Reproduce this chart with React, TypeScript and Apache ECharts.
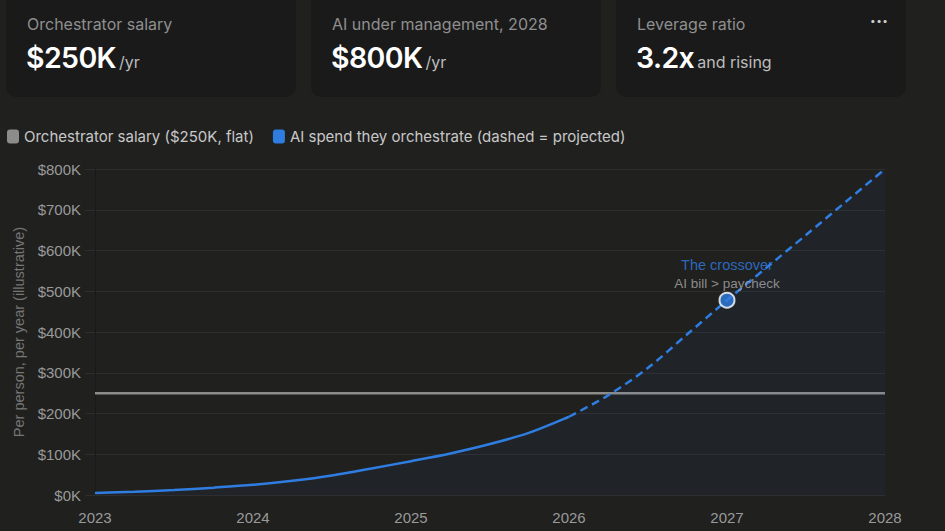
import React, { useEffect, useRef } from "react";
import * as echarts from "echarts";

const years = [2023, 2023.25, 2023.5, 2023.75, 2024, 2024.25, 2024.5, 2024.75, 2025, 2025.25, 2025.5, 2025.75, 2026];
const actualSpend = [5, 8, 12, 18, 25, 35, 48, 65, 83, 102, 125, 153, 192];
const projYears = [2026, 2026.25, 2026.5, 2026.75, 2027, 2027.25, 2027.5, 2027.75, 2028];
const projectedSpend = [192, 245, 312, 395, 478, 558, 638, 719, 800];
const salaryYears = [2023, 2028];
const salaryValues = [250, 250];
const crossover = [2027, 478];
const legendNames = [
  "Orchestrator salary ($250K, flat)",
  "AI spend they orchestrate (dashed = projected)",
];

const cards = [
  { title: "Orchestrator salary", value: "$250K", unit: "/yr", left: 6 },
  { title: "AI under management, 2028", value: "$800K", unit: "/yr", left: 311 },
  { title: "Leverage ratio", value: "3.2x", unit: "and rising", left: 616 },
];

const BLUE = "#2f7de1";
const GRAY = "#8c8c8a";

export default function App() {
  const ref = useRef<HTMLDivElement>(null);
  useEffect(() => {
    if (!ref.current) return;
    const chart = echarts.init(ref.current, undefined, { renderer: "svg" });
    const axisFont = "'Liberation Sans', Arial, sans-serif";
    chart.setOption({
      animation: false,
      backgroundColor: "transparent",
      legend: {
        left: 2,
        top: 124,
        itemWidth: 12,
        itemHeight: 14,
        itemGap: 19,
        icon: "roundRect",
        textStyle: { color: "#c8c8c8", fontSize: 15, fontFamily: "Inter, sans-serif" },
        data: [
          { name: legendNames[0], itemStyle: { color: GRAY } },
          { name: legendNames[1], itemStyle: { color: BLUE } },
        ],
      },
      grid: { left: 95, right: 60, top: 169, bottom: 36 },
      xAxis: {
        type: "value",
        min: 2023,
        max: 2028,
        interval: 1,
        axisLabel: {
          formatter: (v: number) => String(v),
          color: "#9a9a9a",
          fontSize: 15,
          margin: 15,
          fontFamily: axisFont,
        },
        splitLine: { show: false },
        axisLine: { show: false },
        axisTick: { show: false },
      },
      yAxis: {
        type: "value",
        min: 0,
        max: 800,
        interval: 100,
        name: "Per person, per year (illustrative)",
        nameLocation: "middle",
        nameGap: 68,
        nameTextStyle: { color: "#767676", fontSize: 14.5, fontFamily: axisFont },
        axisLabel: {
          formatter: "${value}K",
          color: "#9a9a9a",
          fontSize: 15,
          margin: 14,
          fontFamily: axisFont,
        },
        splitLine: { lineStyle: { color: "#2e2e2e", width: 1 } },
        axisTick: { show: true, length: 10, lineStyle: { color: "#2e2e2e" } },
        axisLine: { show: true, lineStyle: { color: "#191919" } },
      },
      series: [
        {
          name: legendNames[0],
          type: "line",
          data: salaryYears.map((x, i) => [x, salaryValues[i]]),
          symbol: "none",
          lineStyle: { color: GRAY, width: 2.5 },
          itemStyle: { color: GRAY },
          z: 3,
        },
        {
          name: legendNames[1],
          type: "line",
          data: years.map((x, i) => [x, actualSpend[i]]),
          smooth: 0.3,
          symbol: "none",
          lineStyle: { color: BLUE, width: 2.5 },
          itemStyle: { color: BLUE },
          areaStyle: { color: "rgba(50,110,235,0.07)" },
          z: 4,
        },
        {
          name: legendNames[1],
          type: "line",
          data: projYears.map((x, i) => [x, projectedSpend[i]]),
          smooth: 0.3,
          symbol: "none",
          lineStyle: { color: BLUE, width: 2.5, type: [8, 5] },
          itemStyle: { color: BLUE },
          areaStyle: { color: "rgba(50,110,235,0.07)" },
          z: 4,
        },
        {
          name: "crossover",
          type: "scatter",
          data: [crossover],
          symbolSize: 15,
          itemStyle: { color: BLUE, borderColor: "#ffffff", borderWidth: 2 },
          z: 6,
          label: {
            show: true,
            position: "top",
            distance: -1,
            formatter: "{a|The crossover}\n{b|AI bill > paycheck}",
            rich: {
              a: { color: BLUE, fontSize: 14.5, lineHeight: 19, fontFamily: axisFont, align: "center" },
              b: { color: "#a8a8a8", fontSize: 13.5, lineHeight: 18, fontFamily: axisFont, align: "center" },
            },
          },
        },
      ],
    });
    return () => chart.dispose();
  }, []);

  return (
    <div
      style={{
        position: "fixed",
        left: 0,
        top: 0,
        width: 945,
        height: 531,
        background: "#20201f",
        overflow: "hidden",
        fontFamily: "Inter, sans-serif",
      }}
    >
      <div ref={ref} style={{ position: "absolute", left: 0, top: 0, width: 945, height: 531 }} />
      {cards.map((c) => (
        <div
          key={c.title}
          style={{
            position: "absolute",
            left: c.left,
            top: -20,
            width: 290,
            height: 117,
            background: "#1a1a1a",
            borderRadius: 10,
          }}
        >
          <div
            style={{
              position: "absolute",
              left: 21,
              top: 34,
              fontSize: 16,
              lineHeight: "20px",
              color: "#8f8f8f",
              whiteSpace: "nowrap",
            }}
          >
            {c.title}
          </div>
          <div
            style={{
              position: "absolute",
              left: 20,
              top: 60,
              whiteSpace: "nowrap",
              lineHeight: "36px",
            }}
          >
            <span style={{ fontSize: 28.5, fontWeight: 600, color: "#ffffff", letterSpacing: -0.6 }}>{c.value}</span>
            <span style={{ fontSize: 16, color: "#bdbdbd", marginLeft: 3 }}>{c.unit}</span>
          </div>
        </div>
      ))}
      <div
        style={{
          position: "absolute",
          left: 870,
          top: 14,
          fontSize: 10,
          lineHeight: "12px",
          color: "#cccccc",
          letterSpacing: 0.5,
        }}
      >
        •••
      </div>
    </div>
  );
}
